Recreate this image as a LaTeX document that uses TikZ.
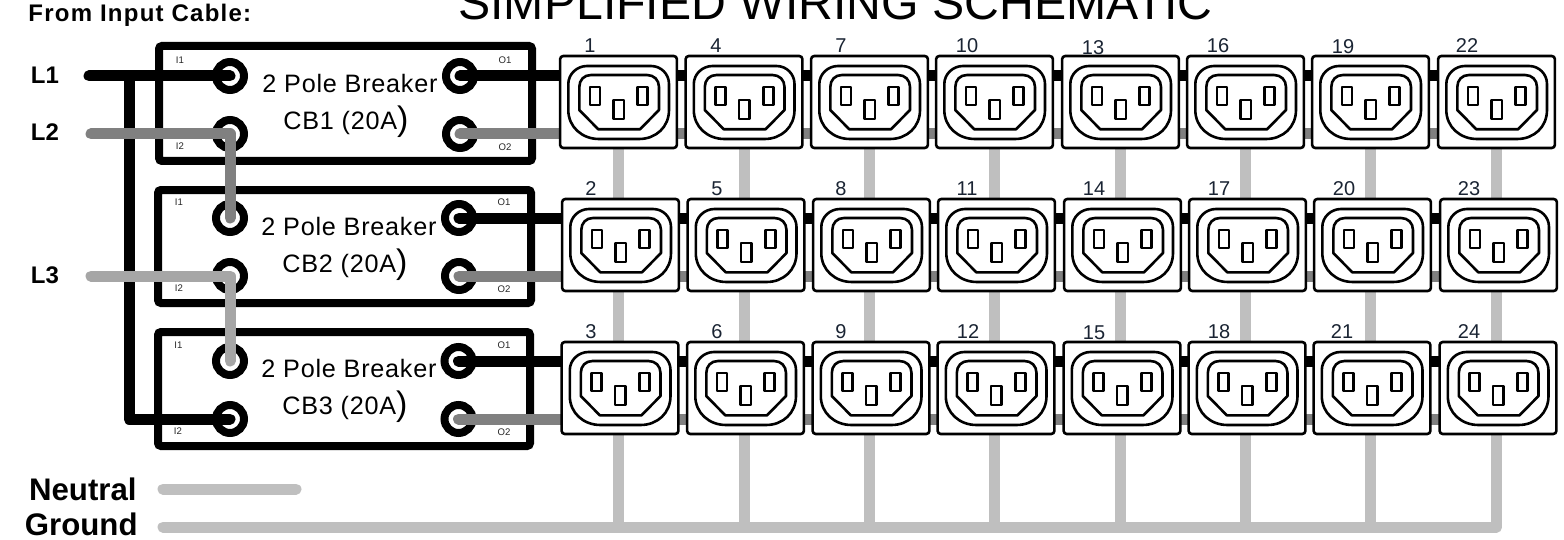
\documentclass[tikz,border=0pt]{standalone}
\usepackage{fontspec}
\setmainfont{Liberation Sans}
\newfontfamily\spaced[LetterSpace=3]{Liberation Sans}
\newfontfamily\spacedb[LetterSpace=5.2]{Liberation Sans Bold}
\pgfdeclarelayer{paper}
\pgfdeclarelayer{low}
\pgfdeclarelayer{mid}
\pgfsetlayers{paper,low,mid,main}
\definecolor{phasetwo}{HTML}{808080}
\definecolor{phasethree}{HTML}{A6A6A6}
\definecolor{neutralgray}{HTML}{BFBFBF}
\definecolor{numcol}{HTML}{1A2433}
\tikzset{
  breaker/.style={draw=black,line width=4pt,rounded corners=1.5pt,fill=white,inner sep=0pt},
  terminal/.style={circle,draw=black,line width=4pt,fill=white,minimum size=14pt,inner sep=0pt},
  wire/.style={line width=5.5pt,line cap=round,line join=round},
  outletbox/.style={draw=black,line width=1.3pt,rounded corners=1.6pt,fill=white,minimum width=58.4pt,minimum height=46pt,inner sep=0pt},
  contour/.style={draw=black,line width=1.3pt,line join=round},
  bigtxt/.style={font=\spaced\fontsize{12.6}{14}\selectfont,inner sep=0pt},
  tiny/.style={font=\fontsize{4.8}{5}\selectfont,inner sep=0pt,text=black!85},
  num/.style={font=\fontsize{10}{11}\selectfont,inner sep=0pt,text=numcol},
  phase/.style={font=\bfseries\fontsize{12}{14}\selectfont,inner sep=0pt},
  legend/.style={font=\bfseries\fontsize{15.6}{17}\selectfont,inner sep=0pt,anchor=east}
}
\begin{document}
\begin{tikzpicture}[x=0.5pt,y=-0.5pt]
\begin{pgfonlayer}{paper}
\path[fill=white] (0,0) rectangle (1564,540);
\end{pgfonlayer}
\useasboundingbox (0,0) rectangle (1564,540);

\node[anchor=base west,inner sep=0pt,font=\fontsize{24.1}{26}\selectfont] (title) at (458,19.5) {SIMPLIFIED WIRING SCHEMATIC};
\node[anchor=west,inner sep=0pt,font=\spacedb\fontsize{12}{13}\selectfont] (from) at (28,15) {From Input Cable:};

\node[phase] (L1) at (45,75) {L1};
\node[phase] (L2) at (45,132) {L2};
\node[phase] (L3) at (45,275) {L3};
\node[legend] (neutral) at (137,489) {Neutral};
\node[legend] (ground) at (138,524.5) {Ground};

% breakers
\begin{pgfonlayer}{low}
\foreach \b/\l/\t/\r/\bo/\ia/\ib/\oa/\oo/\ya/\yb in {
  1/159/46/532/161/230/230/460/460/76/134,
  2/158/190/531/303/230/230/459/459/218/276,
  3/158/332/530/446/230/230/458.5/458.5/361/419}{
  \draw[breaker] (\l,\t) rectangle (\r,\bo);
  \node[terminal] (i\b a) at (\ia,\ya) {};
  \node[terminal] (i\b b) at (\ib,\yb) {};
  \node[terminal] (o\b a) at (\oa,\ya) {};
  \node[terminal] (o\b b) at (\oo,\yb) {};
}
\end{pgfonlayer}

\foreach \xx/\yy/\tt/\nm in {
  180/60/I1/ta,180/146/I2/tb,505/60/O1/tc,505/147/O2/td,
  179/202/I1/te,179/288/I2/tf,504/202/O1/tg,504/289/O2/th,
  178.5/345/I1/ti,178/431/I2/tj,504/345/O1/tk,504/432/O2/tl}{
  \node[tiny] (\nm) at (\xx,\yy) {\tt};
}
\foreach \b/\xa/\xb/\ya/\yb in {1/350/346/83/122,2/349/345/226/265,3/349/345/368/407}{
  \node[bigtxt] (bt\b) at (\xa,\ya) {2 Pole Breaker};
  \node[bigtxt] (bc\b) at (\xb,\yb) {CB\b{} (20A\raisebox{-0.6pt}{\fontsize{17}{18}\selectfont)}};
}

% outlets
\foreach \cc/\xl in {0/559,1/684.5,2/810,3/935,4/1061,5/1186,6/1311,7/1437}{
  \foreach \rr/\dx/\yt in {0/0/55,1/2/198,2/1.5/341}{
    \pgfmathtruncatemacro{\n}{3*\cc+\rr+1}
    \pgfmathsetmacro{\xc}{\xl+\dx+59.5}
    \pgfmathsetmacro{\yc}{\yt+47}
    \node[outletbox] (s\n) at (\xc,\yc) {};
    \begin{scope}[shift={(\xl+\dx,\yt)}]
      \draw[contour] (28,11) -- (92,11) .. controls (102,11) and (110,19) .. (110,29)
        -- (110,55) .. controls (110,72) and (97,84) .. (80,84)
        -- (40,84) .. controls (23,84) and (9.3,72) .. (9.3,55)
        -- (9.3,29) .. controls (9.3,19) and (18,11) .. (28,11) -- cycle;
      \draw[contour] (32,20) -- (88,20) .. controls (95,20) and (100,25) .. (100,32)
        -- (100,55) -- (81,74.3) -- (39.3,74.3) -- (20.3,55) -- (20.3,32)
        .. controls (20.3,25) and (25,20) .. (32,20) -- cycle;
      \draw[contour] (31,32) rectangle (41,50);
      \draw[contour] (78.7,32) rectangle (88.7,50);
      \draw[contour] (54.5,45) rectangle (65,64);
    \end{scope}
  }
}

\foreach \n/\xx/\yy in {1/590/46,4/716/46,7/841/46,10/967/46,13/1093/48,16/1218/46,19/1343/47,22/1467/46,
  2/591/189,5/717/189,8/841/189,11/967/189,14/1094/189,17/1219/189,20/1344/189,23/1469/189,
  3/591/332,6/717/332,9/841/332,12/968/332,15/1094/333,18/1219/332,21/1342/332,24/1469/332}{
  \node[num] (n\n) at (\xx,\yy) {\n};
}

% wires
\coordinate (startL1) at (89,76);
\coordinate (startL2) at (91,134);
\coordinate (startL3) at (91,276);
\coordinate (startN) at (163,489);
\coordinate (endN) at (296,489);
\coordinate (startG) at (163,527);
\coordinate (busL1) at (129,76);
\begin{pgfonlayer}{mid}
  % neutral / ground drops
  \foreach \n in {1,4,7,10,13,16,19}{
    \draw[wire,neutralgray,line cap=butt] (s\n.center) -- (s\n.center |- startG);
  }
  \draw[wire,neutralgray] (startN) -- (endN);
  \draw[wire,neutralgray] (startG) -- (startG -| s22.center) -- (s22.center);
  % outlet buses
  \foreach \a/\e in {1/22,2/23,3/24}{
    \draw[wire,black] (o\a a.center) -- (o\a a.center -| s\e.center);
  }
  \foreach \a/\e in {1/22,2/23,3/24}{
    \draw[wire,phasetwo] (o\a b.center) -- (o\a b.center -| s\e.center);
  }
  % input lines
  \draw[wire,black] (startL1) -- (i1a.center);
  \draw[wire,black] (busL1) -- (busL1 |- i3b.center) -- (i3b.center);
  \draw[wire,phasetwo] (startL2) -- (i1b.center) -- (i2a.center);
  \draw[wire,phasethree] (startL3) -- (i2b.center) -- (i3a.center);
\end{pgfonlayer}
\end{tikzpicture}
\end{document}
